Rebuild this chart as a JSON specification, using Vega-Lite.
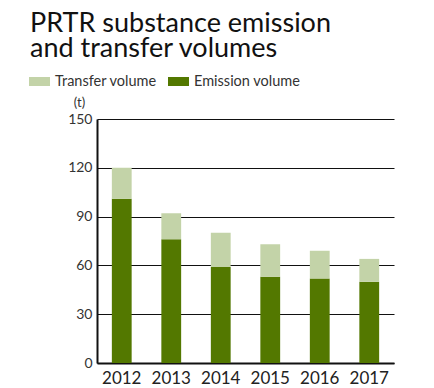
{
  "$schema": "https://vega.github.io/schema/vega-lite/v6.json",
  "width": 297,
  "height": 244,
  "autosize": {"type": "none"},
  "padding": {"left": 97, "top": 119, "right": 40, "bottom": 25},
  "background": "#ffffff",
  "config": {"view": {"stroke": null}},
  "title": {
    "text": ["PRTR substance emission", "and transfer volumes"],
    "anchor": "start",
    "frame": "group",
    "dx": -67,
    "font": "Lato",
    "fontSize": 27,
    "fontWeight": "normal",
    "color": "#111111",
    "lineHeight": 25,
    "offset": 8
  },
  "data": {
    "values": [
      {"year": "2012", "type": "Emission volume", "value": 101, "ord": 1},
      {"year": "2012", "type": "Transfer volume", "value": 19, "ord": 2},
      {"year": "2013", "type": "Emission volume", "value": 76, "ord": 1},
      {"year": "2013", "type": "Transfer volume", "value": 16, "ord": 2},
      {"year": "2014", "type": "Emission volume", "value": 59, "ord": 1},
      {"year": "2014", "type": "Transfer volume", "value": 21, "ord": 2},
      {"year": "2015", "type": "Emission volume", "value": 53, "ord": 1},
      {"year": "2015", "type": "Transfer volume", "value": 20, "ord": 2},
      {"year": "2016", "type": "Emission volume", "value": 52, "ord": 1},
      {"year": "2016", "type": "Transfer volume", "value": 17, "ord": 2},
      {"year": "2017", "type": "Emission volume", "value": 50, "ord": 1},
      {"year": "2017", "type": "Transfer volume", "value": 14, "ord": 2}
    ]
  },
  "mark": {"type": "bar"},
  "encoding": {
    "x": {
      "field": "year",
      "type": "ordinal",
      "scale": {"paddingInner": 0.6, "paddingOuter": 0.3},
      "axis": {
        "title": null,
        "labelAngle": 0,
        "labelFont": "Lato",
        "labelFontSize": 17,
        "labelColor": "#222222",
        "labelPadding": 7,
        "ticks": false,
        "domainColor": "#111111",
        "domainWidth": 2
      }
    },
    "y": {
      "field": "value",
      "type": "quantitative",
      "stack": "zero",
      "scale": {"domain": [0, 150], "nice": false},
      "axis": {
        "title": "(t)",
        "titleAngle": 0,
        "titleAlign": "center",
        "titleBaseline": "middle",
        "titleX": -18,
        "titleY": -17,
        "titleFont": "Lato",
        "titleFontSize": 13,
        "titleFontWeight": "normal",
        "titleColor": "#333333",
        "values": [0, 30, 60, 90, 120, 150],
        "labelFont": "Lato",
        "labelFontSize": 14,
        "labelColor": "#333333",
        "labelPadding": 5,
        "ticks": false,
        "grid": true,
        "gridColor": "#111111",
        "gridWidth": 1,
        "domainColor": "#111111",
        "domainWidth": 2
      }
    },
    "color": {
      "field": "type",
      "type": "nominal",
      "scale": {
        "domain": ["Transfer volume", "Emission volume"],
        "range": ["#c3d3a8", "#537800"]
      },
      "legend": {
        "title": null,
        "orient": "none",
        "direction": "horizontal",
        "legendX": -68,
        "legendY": -48,
        "symbolType": "M-1,-0.43H1V0.43H-1Z",
        "symbolSize": 441,
        "symbolStrokeWidth": 0,
        "symbolOpacity": 1,
        "labelFont": "Lato",
        "labelFontSize": 14.5,
        "labelColor": "#333333",
        "labelOffset": 5,
        "columnPadding": 11
      }
    },
    "order": {"field": "ord", "type": "quantitative"}
  }
}
